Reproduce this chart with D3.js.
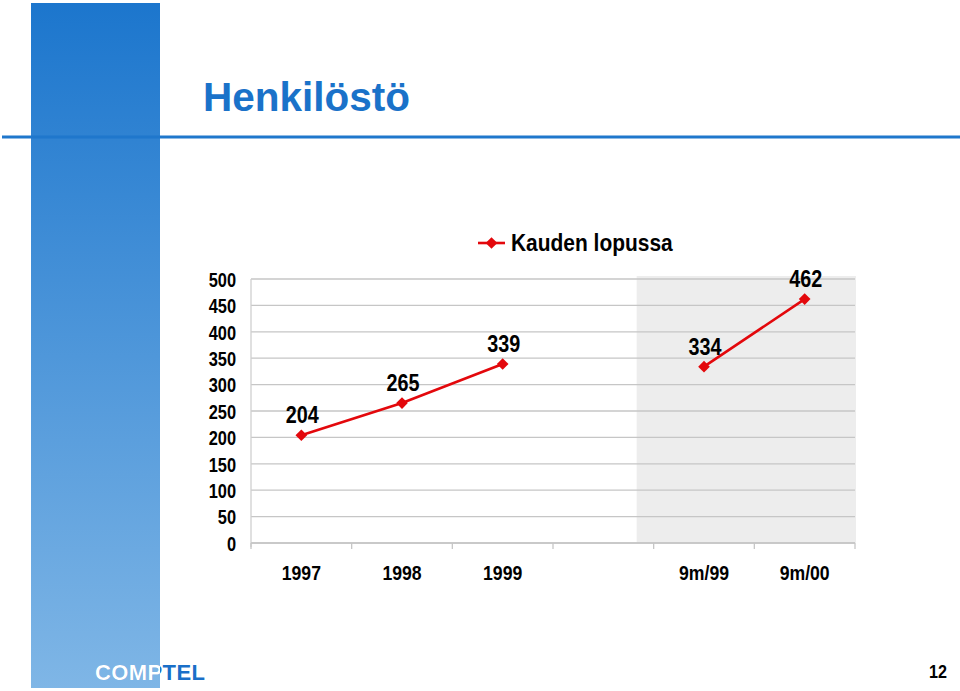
<!DOCTYPE html>
<html><head><meta charset="utf-8">
<script src="https://cdn.jsdelivr.net/npm/d3@7"></script>
<style>body{margin:0;background:#fff}svg{display:block}</style>
</head><body>
<script>
const categories = ["1997","1998","1999","","9m/99","9m/00"];
const values = [204, 265, 339, null, 334, 462];
const yTicks = [0,50,100,150,200,250,300,350,400,450,500];
const seriesName = "Kauden lopussa";
const shadedCats = ["9m/99","9m/00"];

const W=960,H=691;
const svg=d3.select("body").append("svg").attr("width",W).attr("height",H);
const defs=svg.append("defs");
const grad=defs.append("linearGradient").attr("id","band").attr("x1",0).attr("y1",0).attr("x2",0).attr("y2",1);
grad.append("stop").attr("offset","0%").attr("stop-color","#1c76cd");
grad.append("stop").attr("offset","100%").attr("stop-color","#7fb6e6");
defs.append("clipPath").attr("id","bandclip").append("rect").attr("x",31).attr("y",3).attr("width",129).attr("height",685);

function condense(sel, f){
  sel.each(function(){
    const w=this.getComputedTextLength();
    if(w>0) d3.select(this).attr("textLength",w*f).attr("lengthAdjust","spacingAndGlyphs");
  });
}

// band
svg.append("rect").attr("x",31).attr("y",3).attr("width",129).attr("height",685).attr("fill","url(#band)");
// horizontal line
svg.append("rect").attr("x",2).attr("y",135.5).attr("width",958).attr("height",3).attr("fill","#1f77cc");
// title
svg.append("text").attr("x",203).attr("y",111).text("Henkilöstö")
  .attr("font-family","Liberation Sans, Arial, sans-serif").attr("font-weight","bold").attr("font-size",40.5).attr("fill","#1a72c9");

const font="'Liberation Sans',Arial,sans-serif";
const pLeft=251,pRight=855,pTop=279,pBottom=543;
const x=d3.scaleBand().domain(categories.map((c,i)=>i)).range([pLeft,pRight]).paddingInner(0).paddingOuter(0);
const y=d3.scaleLinear().domain([0,500]).range([pBottom,pTop]);
const g=svg.append("g");

// shaded region
const s0=x(categories.indexOf(shadedCats[0]));
g.append("rect").attr("x",s0-17).attr("y",pTop-3).attr("width",pRight+1-(s0-17)).attr("height",pBottom-pTop+3).attr("fill","#ededed");

// gridlines
g.selectAll(".grid").data(yTicks).join("line")
  .attr("x1",pLeft).attr("x2",pRight).attr("y1",d=>y(d)).attr("y2",d=>y(d))
  .attr("stroke","#c6c6c6").attr("stroke-width",1.3);

// y axis
const ya=g.append("g").attr("transform",`translate(${pLeft},0)`).call(d3.axisLeft(y).tickValues(yTicks).tickSize(0).tickPadding(15));
ya.select(".domain").attr("stroke","#d0d0d0").attr("stroke-width",1.3).attr("d",`M0,${pTop}V${pBottom+4}`);
ya.selectAll("text").attr("font-family",font).attr("font-weight","bold").attr("font-size",20).attr("fill","#000").attr("dy","0.36em").call(condense,0.82);

// x axis
const xa=g.append("g").attr("transform",`translate(0,${pBottom})`).call(d3.axisBottom(x).tickFormat(i=>categories[i]).tickSize(0).tickPadding(22));
xa.select(".domain").attr("stroke","#c6c6c6").attr("stroke-width",1.3).attr("d",`M${pLeft},0H${pRight}`);
xa.selectAll("text").attr("font-family",font).attr("font-weight","bold").attr("font-size",21).attr("fill","#000").call(condense,0.84);
const bounds=categories.map((c,i)=>x(i)).concat([pRight]);
g.selectAll(".xt").data(bounds).join("line").attr("x1",d=>d).attr("x2",d=>d).attr("y1",pBottom).attr("y2",pBottom+6).attr("stroke","#c6c6c6").attr("stroke-width",1.3);

// line
const pts=values.map((v,i)=>({i,v}));
const line=d3.line().defined(d=>d.v!=null).x(d=>x(d.i)+x.bandwidth()/2).y(d=>y(d.v));
g.append("path").attr("d",line(pts)).attr("fill","none").attr("stroke","#e3080c").attr("stroke-width",2.6);
const diamond=d3.symbol().type(d3.symbolSquare).size(68);
const valid=pts.filter(d=>d.v!=null);
g.selectAll(".m").data(valid).join("path").attr("d",diamond)
  .attr("transform",d=>`translate(${x(d.i)+x.bandwidth()/2},${y(d.v)}) rotate(45)`).attr("fill","#e3080c");
g.selectAll(".lbl").data(valid).join("text")
  .attr("x",d=>x(d.i)+x.bandwidth()/2+1).attr("y",d=>y(d.v)-12).attr("text-anchor","middle")
  .text(d=>d.v).attr("font-family",font).attr("font-weight","bold").attr("font-size",23).attr("fill","#000").call(condense,0.86);

// legend
const lg=svg.append("g").attr("transform","translate(478,243)");
lg.append("line").attr("x1",0).attr("x2",27).attr("stroke","#e3080c").attr("stroke-width",2.6);
lg.append("path").attr("d",diamond).attr("transform","translate(13.5,0) rotate(45)").attr("fill","#e3080c");
lg.append("text").attr("x",33).attr("y",8).text(seriesName).attr("font-family",font).attr("font-weight","bold").attr("font-size",23).attr("fill","#000").call(condense,0.91);

// footer
const comp=svg.append("g");
comp.append("text").attr("x",95).attr("y",680).text("COMPTEL").attr("font-family","Liberation Sans, Arial, sans-serif").attr("font-weight","bold").attr("font-size",22).attr("fill","#1a6fc8").attr("textLength",110);
comp.append("text").attr("x",95).attr("y",680).text("COMPTEL").attr("font-family","Liberation Sans, Arial, sans-serif").attr("font-weight","bold").attr("font-size",22).attr("fill","#fff").attr("textLength",110).attr("clip-path","url(#bandclip)");
svg.append("text").attr("x",938).attr("y",678).attr("text-anchor","middle").text("12").attr("font-family",font).attr("font-weight","bold").attr("font-size",19).attr("fill","#000").call(condense,0.85);
</script>
</body></html>
